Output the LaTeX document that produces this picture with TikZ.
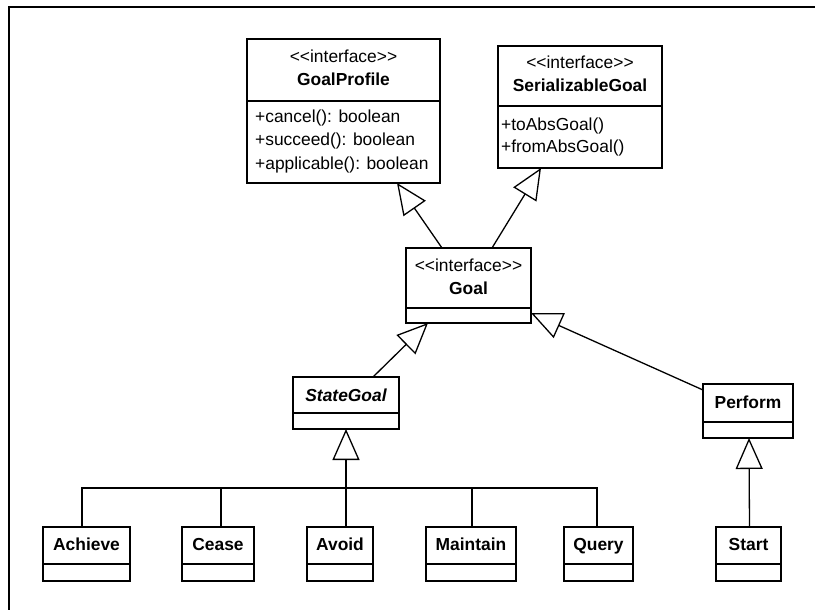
\documentclass[tikz,border=0pt]{standalone}
\usepackage{fontspec}
\setmainfont{Liberation Sans}[Ligatures=TeXOff]
\usetikzlibrary{arrows.meta}
\begin{document}
\begin{tikzpicture}[x=1pt,y=-1pt,
  cls/.style={draw, line width=1.3pt, anchor=north west, inner sep=0pt, outer sep=0pt},
  lbl/.style={font=\fontsize{17.4}{20}\selectfont, inner sep=0pt, anchor=base},
  nm/.style={lbl, font=\fontsize{17.4}{20}\selectfont\bfseries},
  nmi/.style={lbl, font=\fontsize{17.4}{20}\selectfont\bfseries\itshape},
  meth/.style={lbl, anchor=base west},
  sep/.style={line width=1.3pt},
  gen/.style={line width=1.3pt, -{Triangle[open, length=31pt, width=27pt, line width=1.3pt]}},
  link/.style={line width=1.3pt},
  frameline/.style={line width=2.2pt}
]
\useasboundingbox (0,0) rectangle (815,610);
% frame
\draw[frameline] (9,610) -- (9,7) -- (815,7);

% GoalProfile
\node[cls, minimum width=193pt, minimum height=144pt] (gp) at (247,39) {};
\draw[sep] ([yshift=-62pt]gp.north west) -- ([yshift=-62pt]gp.north east);
\node[lbl] (gpst) at (343.5,63) {<<interface>>};
\node[nm] (gpnm) at (343.5,86) {GoalProfile};
\node[meth] (gpm1) at (255,123) {+cancel(): boolean};
\node[meth] (gpm2) at (255,146) {+succeed(): boolean};
\node[meth] (gpm3) at (255,169) {+applicable(): boolean};

% SerializableGoal
\node[cls, minimum width=164pt, minimum height=122pt] (sg) at (498,46) {};
\draw[sep] ([yshift=-60pt]sg.north west) -- ([yshift=-60pt]sg.north east);
\node[lbl] (sgst) at (580,69) {<<interface>>};
\node[nm] (sgnm) at (580,92) {SerializableGoal};
\node[meth] (sgm1) at (501,131) {+toAbsGoal()};
\node[meth] (sgm2) at (501,153) {+fromAbsGoal()};

% Goal
\node[cls, minimum width=125pt, minimum height=75pt] (goal) at (406,248) {};
\draw[sep] ([yshift=-60pt]goal.north west) -- ([yshift=-60pt]goal.north east);
\node[lbl] (goalst) at (468.5,271) {<<interface>>};
\node[nm] (goalnm) at (468.5,294) {Goal};

% StateGoal
\node[cls, minimum width=106pt, minimum height=52pt] (stg) at (293,377) {};
\draw[sep] ([yshift=-36pt]stg.north west) -- ([yshift=-36pt]stg.north east);
\node[nmi] (stgnm) at (346,401) {StateGoal};

% Perform
\node[cls, minimum width=90pt, minimum height=54pt] (perf) at (703,384) {};
\draw[sep] ([yshift=-38pt]perf.north west) -- ([yshift=-38pt]perf.north east);
\node[nm] (perfnm) at (748,408) {Perform};

% leaves
\node[cls, minimum width=87pt, minimum height=54pt] (ach) at (43,527) {};
\draw[sep] ([yshift=-37pt]ach.north west) -- ([yshift=-37pt]ach.north east);
\node[nm] (achnm) at (86.5,550) {Achieve};

\node[cls, minimum width=72pt, minimum height=54pt] (cea) at (182,527) {};
\draw[sep] ([yshift=-37pt]cea.north west) -- ([yshift=-37pt]cea.north east);
\node[nm] (ceanm) at (218,550) {Cease};

\node[cls, minimum width=66pt, minimum height=54pt] (avo) at (307,527) {};
\draw[sep] ([yshift=-37pt]avo.north west) -- ([yshift=-37pt]avo.north east);
\node[nm] (avonm) at (340,550) {Avoid};

\node[cls, minimum width=90pt, minimum height=54pt] (mai) at (426,527) {};
\draw[sep] ([yshift=-37pt]mai.north west) -- ([yshift=-37pt]mai.north east);
\node[nm] (mainm) at (471,550) {Maintain};

\node[cls, minimum width=69pt, minimum height=54pt] (que) at (564,527) {};
\draw[sep] ([yshift=-37pt]que.north west) -- ([yshift=-37pt]que.north east);
\node[nm] (quenm) at (598.5,550) {Query};

\node[cls, minimum width=65pt, minimum height=54pt] (sta) at (716,527) {};
\draw[sep] ([yshift=-37pt]sta.north west) -- ([yshift=-37pt]sta.north east);
\node[nm] (stanm) at (748.5,550) {Start};

% generalizations
\draw[gen] ([xshift=36pt]goal.north west) -- ([xshift=-43pt]gp.south east);
\draw[gen] ([xshift=86pt]goal.north west) -- ([xshift=43pt]sg.south west);
\draw[gen] ([xshift=80pt]stg.north west) -- ([xshift=22pt]goal.south west);
\draw[gen] ([yshift=-6pt]perf.north west) -- ([yshift=10pt]goal.south east);
\draw[gen] ([xshift=1pt]sta.north) -- ([xshift=1pt]perf.south);

% StateGoal hierarchy
\coordinate (bus) at (346,488);
\draw[gen, line width=1.8pt] (bus) -- (stg.south);
\draw[link] ([xshift=-4.5pt]ach.north) |- (bus);
\draw[link] ([xshift=3pt]cea.north) |- (bus);
\draw[link] ([xshift=6pt]avo.north) -- (bus);
\draw[link] ([xshift=1pt]mai.north) |- (bus);
\draw[link] ([xshift=-1.5pt]que.north) |- (bus);
\end{tikzpicture}
\end{document}
